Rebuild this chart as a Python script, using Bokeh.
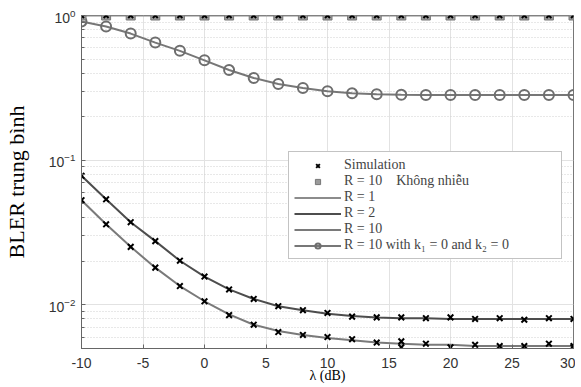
from bokeh.plotting import figure
from bokeh.models import FixedTicker, Legend, LegendItem
from bokeh.embed import file_html
from bokeh.resources import INLINE

# ---- data ----
lam = [-10, -8, -6, -4, -2, 0, 2, 4, 6, 8, 10, 12, 14, 16, 18, 20, 22, 24, 26, 28, 30]

bler_r1 = [1.0] * 21
bler_noiseless_r10 = [1.0] * 21
sim_top = [1.0] * 21

bler_r10_k0 = [0.91, 0.84, 0.75, 0.65, 0.57, 0.49, 0.42, 0.37, 0.336, 0.315, 0.30,
               0.29, 0.286, 0.283, 0.282, 0.282, 0.282, 0.282, 0.282, 0.282, 0.282]

bler_r2 = [0.078, 0.0537, 0.0373, 0.0276, 0.0202, 0.0157, 0.0128, 0.0110, 0.0098, 0.0092, 0.0087,
           0.0084, 0.0082, 0.0081, 0.0081, 0.0080, 0.0080, 0.0080, 0.0080, 0.0080, 0.0080]
sim_r2 = [0.078, 0.0537, 0.0373, 0.0276, 0.0202, 0.0157, 0.0128, 0.0110, 0.0098, 0.0092, 0.0088,
          0.0083, 0.0082, 0.0082, 0.0081, 0.0082, 0.0080, 0.0081, 0.0079, 0.0081, 0.0080]

bler_r10 = [0.0529, 0.0361, 0.0252, 0.0181, 0.0135, 0.0106, 0.0086, 0.0073, 0.0066, 0.0062, 0.0059,
            0.0057, 0.0055, 0.0054, 0.0053, 0.0053, 0.0052, 0.0052, 0.0052, 0.0052, 0.0052]
sim_r10_x = [-10, -8, -6, -4, -2, 0, 2, 4, 6, 8, 10, 12, 14, 16, 16, 18, 20, 22, 24, 26, 28, 30, 30]
sim_r10 = [0.0529, 0.0361, 0.0252, 0.0181, 0.0135, 0.0106, 0.0085, 0.0073, 0.0065, 0.0062, 0.0060,
           0.0058, 0.0055, 0.0056, 0.0051, 0.0054, 0.0051, 0.0053, 0.0052, 0.0052, 0.0054, 0.0051, 0.0052]

x_ticks = [-10, -5, 0, 5, 10, 15, 20, 25, 30]
x_tick_labels = {-10: "-10", -5: "-5"}
y_ticks = [0.01, 0.1, 1.0]
y_minor = [0.005, 0.006, 0.007, 0.008, 0.009,
           0.02, 0.03, 0.04, 0.05, 0.06, 0.07, 0.08, 0.09,
           0.2, 0.3, 0.4, 0.5, 0.6, 0.7, 0.8, 0.9]

p = figure(width=575, height=385, y_axis_type="log",
           x_range=(-10, 30), y_range=(0.005, 1.0),
           output_backend="svg", toolbar_location=None,
           min_border_left=70, min_border_top=15, min_border_right=2, min_border_bottom=35)

p.background_fill_color = "white"
p.border_fill_color = "white"
p.outline_line_color = "#777777"
p.outline_line_width = 1

# grids
p.xgrid.ticker = FixedTicker(ticks=x_ticks)
p.xgrid.grid_line_color = "#e2e2e2"
p.ygrid.ticker = FixedTicker(ticks=y_ticks, minor_ticks=y_minor)
p.ygrid.grid_line_color = "#e2e2e2"
p.ygrid.minor_grid_line_color = "#d0d0d0"
p.ygrid.minor_grid_line_dash = "1 2"

# axes
p.xaxis.ticker = FixedTicker(ticks=x_ticks)
p.xaxis.major_label_overrides = x_tick_labels
p.yaxis.ticker = FixedTicker(ticks=y_ticks, minor_ticks=y_minor)
for ax in (p.xaxis[0], p.yaxis[0]):
    ax.axis_line_color = "#666666"
    ax.major_tick_line_color = "#666666"
    ax.minor_tick_line_color = "#666666"
    ax.major_tick_in = 4
    ax.major_tick_out = 0
    ax.minor_tick_in = 3
    ax.minor_tick_out = 0
    ax.major_label_text_font = "Liberation Sans"
    ax.major_label_text_font_size = "14px"
    ax.major_label_text_color = "#333333"
    ax.axis_label_text_font = "Liberation Serif"
    ax.axis_label_text_font_style = "normal"
    ax.axis_label_text_color = "black"
p.xaxis.minor_tick_in = 0
p.xaxis.axis_label = "λ (dB)"
p.xaxis.axis_label_text_font_size = "14px"
p.xaxis.axis_label_standoff = -3
p.xaxis.major_label_standoff = 9
p.yaxis.axis_label = "BLER trung bình"
p.yaxis.axis_label_text_font_size = "22px"
p.yaxis.axis_label_standoff = 17
p.yaxis.major_label_standoff = 6

# curves
l_r1 = p.line(lam, bler_r1, line_color="#8c8c8c", line_width=2)
l_r2 = p.line(lam, bler_r2, line_color="#4d4d4d", line_width=2)
l_r10 = p.line(lam, bler_r10, line_color="#7a7a7a", line_width=2)
l_k0 = p.line(lam, bler_r10_k0, line_color="#777777", line_width=2)
c_k0 = p.scatter(lam, bler_r10_k0, marker="circle", size=10, line_color="#6e6e6e",
                 line_width=2, fill_color="white", fill_alpha=0.0)
sq = p.scatter(lam, bler_noiseless_r10, marker="square", size=9, line_color="#777777",
               fill_color="#9a9a9a", line_width=1)
sim1 = p.scatter(lam, sim_top, marker="x", size=7, line_color="black", line_width=2)
sim2 = p.scatter(lam, sim_r2, marker="x", size=8, line_color="black", line_width=2)
sim3 = p.scatter(sim_r10_x, sim_r10, marker="x", size=8, line_color="black", line_width=2)

legend = Legend(items=[
    LegendItem(label="Simulation", renderers=[sim2]),
    LegendItem(label="R = 10    Không nhiễu", renderers=[sq]),
    LegendItem(label="R = 1", renderers=[l_r1]),
    LegendItem(label="R = 2", renderers=[l_r2]),
    LegendItem(label="R = 10", renderers=[l_r10]),
    LegendItem(label="R = 10 with k\u2081 = 0 and k\u2082 = 0", renderers=[l_k0, c_k0]),
], location=(207, 89))
legend.label_text_font = "Liberation Serif"
legend.label_text_font_size = "14px"
legend.label_height = 13
legend.glyph_height = 13
legend.glyph_width = 47
legend.label_width = 212
legend.label_standoff = 3
legend.spacing = -4
legend.padding = 5
legend.margin = 0
legend.border_line_color = "#888888"
legend.border_line_width = 1
legend.background_fill_color = "white"
legend.background_fill_alpha = 1.0
p.add_layout(legend, "center")

open("out.html", "w").write(file_html(p, INLINE))
